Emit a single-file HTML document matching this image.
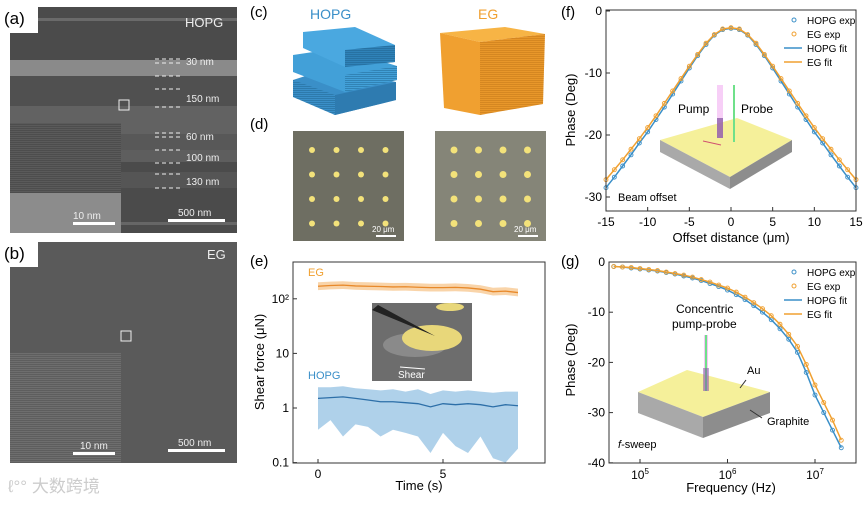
<!DOCTYPE html>
<html><head><meta charset="utf-8"><style>
body{margin:0;background:#fff;width:865px;height:500px;overflow:hidden}
svg{font-family:"Liberation Sans","Noto Sans CJK SC",sans-serif}
</style></head><body>
<svg id="s" width="865" height="500" viewBox="0 0 865 500">
<defs>
<pattern id="lines" width="4" height="2" patternUnits="userSpaceOnUse"><rect width="4" height="1" fill="#000" opacity="0.15"/></pattern>
<pattern id="olines" width="4" height="2" patternUnits="userSpaceOnUse"><rect width="4" height="1" fill="#b06a10" opacity="0.35"/></pattern>
<pattern id="blines" width="4" height="2" patternUnits="userSpaceOnUse"><rect width="4" height="1" fill="#1d5f8a" opacity="0.45"/></pattern>
</defs>
<!-- panel a -->
<g>
<rect x="10" y="7" width="227" height="226" fill="#4b4b4b"/>
<rect x="10" y="18" width="227" height="3" fill="#6a6a6a"/>
<rect x="10" y="60" width="227" height="16" fill="#8a8a8a"/>
<rect x="10" y="76" width="227" height="30" fill="#505050"/>
<rect x="10" y="106" width="227" height="28" fill="#626262"/>
<rect x="10" y="134" width="227" height="16" fill="#585858"/>
<rect x="10" y="150" width="227" height="12" fill="#5e5e5e"/>
<rect x="10" y="172" width="227" height="16" fill="#555"/>
<rect x="10" y="222" width="227" height="3" fill="#666"/>
<rect x="10" y="123" width="111" height="110" fill="#5a5a5a"/>
<rect x="10" y="123" width="111" height="70" fill="url(#lines)"/>
<rect x="10" y="193" width="111" height="40" fill="#8c8c8c"/>
<rect x="119" y="100" width="10" height="10" fill="none" stroke="#eee" stroke-width="1"/>
<rect x="0" y="0" width="38" height="33" fill="#fff"/>
<text x="4" y="24" font-size="17">(a)</text>
<text x="185" y="27" font-size="13" fill="#eee">HOPG</text>
<g stroke="#eee" stroke-dasharray="4,3" stroke-width="1">
<line x1="155" y1="59" x2="180" y2="59"/><line x1="155" y1="63" x2="180" y2="63"/><line x1="155" y1="76" x2="180" y2="76"/>
<line x1="155" y1="89" x2="180" y2="89"/><line x1="155" y1="107" x2="180" y2="107"/>
<line x1="155" y1="133" x2="180" y2="133"/><line x1="155" y1="137" x2="180" y2="137"/><line x1="155" y1="150" x2="180" y2="150"/>
<line x1="155" y1="163" x2="180" y2="163"/><line x1="155" y1="174" x2="180" y2="174"/><line x1="155" y1="188" x2="180" y2="188"/>
</g>
<g fill="#eee" font-size="10"><text x="186" y="65">30 nm</text><text x="186" y="102">150 nm</text><text x="186" y="140">60 nm</text><text x="186" y="161">100 nm</text><text x="186" y="185">130 nm</text>
<text x="73" y="219">10 nm</text><text x="178" y="216">500 nm</text></g>
<rect x="73" y="222" width="42" height="3" fill="#fff"/><rect x="168" y="219" width="57" height="3" fill="#fff"/>
</g>
<!-- panel b -->
<g>
<rect x="10" y="242" width="227" height="221" fill="#5a5a5a"/>
<rect x="10" y="353" width="111" height="110" fill="#6e6e6e"/>
<rect x="10" y="353" width="111" height="110" fill="url(#lines)"/>
<rect x="121" y="331" width="10" height="10" fill="none" stroke="#eee"/>
<rect x="0" y="237" width="38" height="30" fill="#fff"/>
<text x="4" y="259" font-size="17">(b)</text>
<text x="207" y="259" font-size="13" fill="#eee">EG</text>
<g fill="#eee" font-size="10"><text x="80" y="449">10 nm</text><text x="178" y="446">500 nm</text></g>
<rect x="73" y="452" width="42" height="3" fill="#fff"/><rect x="168" y="449" width="57" height="3" fill="#fff"/>
<text x="8" y="492" font-size="17" fill="#ccc">ℓ°° 大数跨境</text>
</g>
<!-- panel c -->
<g>
<text x="250" y="17" font-size="15">(c)</text>
<text x="310" y="19" font-size="14" fill="#3a8fc8">HOPG</text>
<text x="478" y="19" font-size="14" fill="#f0a030">EG</text>
<g>
<polygon points="293,80 330,68 396,82 396,100 335,115 293,97" fill="#3a8fc8"/><polygon points="293,80 335,95 335,115 293,97" fill="url(#blines)"/><polygon points="335,95 396,82 396,100 335,115" fill="#2e7bb0"/>
<polygon points="293,55 340,48 397,66 397,80 345,92 293,72" fill="#42a0d8"/><polygon points="345,75 397,66 397,80 345,92" fill="url(#blines)"/>
<polygon points="303,32 355,27 395,45 395,62 345,67 303,48" fill="#4aa8e0"/><polygon points="345,50 395,45 395,62 345,67" fill="#2f82b8"/><polygon points="345,50 395,45 395,62 345,67" fill="url(#blines)"/>
</g>
<g>
<polygon points="440,33 505,27 545,34 480,42" fill="#f7b445"/>
<polygon points="440,33 480,42 480,115 444,108" fill="#f0a030"/>
<polygon points="480,42 545,34 543,104 480,115" fill="#e8972a"/>
<polygon points="480,42 545,34 543,104 480,115" fill="url(#olines)"/>
</g>
</g>
<!-- panel d -->
<g>
<text x="250" y="129" font-size="15">(d)</text>
<rect x="293" y="131" width="111" height="110" fill="#6e6e62"/>
<rect x="435" y="131" width="111" height="110" fill="#858578"/>
<g id="dots" fill="#f3e27a"></g>
<text x="372" y="232" font-size="8" fill="#fff">20 μm</text><rect x="376" y="235" width="20" height="2" fill="#fff"/>
<text x="514" y="232" font-size="8" fill="#fff">20 μm</text><rect x="518" y="235" width="20" height="2" fill="#fff"/>
</g>
<!-- panel e -->
<g>
<text x="250" y="266" font-size="15">(e)</text>
<g id="eplot"></g>
<rect x="293" y="262" width="252" height="201" fill="none" stroke="#333" stroke-width="1"/>
<g>
<rect x="372" y="303" width="100" height="78" fill="#6d6d6d"/>
<ellipse cx="415" cy="345" rx="32" ry="12" fill="#8a8a8a"/>
<ellipse cx="432" cy="338" rx="30" ry="13" fill="#e8d77a"/>
<ellipse cx="450" cy="307" rx="14" ry="4" fill="#e8d77a"/>
<polygon points="372,310 378,305 435,336" fill="#222"/>
<line x1="425" y1="369" x2="400" y2="367" stroke="#fff" stroke-width="1"/>
<text x="398" y="378" font-size="10" fill="#fff">Shear</text>
</g>
<text x="308" y="276" font-size="11" fill="#f0a030">EG</text>
<text x="308" y="379" font-size="11" fill="#3a8fc8">HOPG</text>
<text transform="translate(264,362) rotate(-90)" font-size="13" text-anchor="middle">Shear force (μN)</text>
<text x="419" y="490" font-size="13" text-anchor="middle">Time (s)</text>
</g>
<!-- panel f -->
<g>
<text x="561" y="17" font-size="15">(f)</text>
<g id="finset">
<polygon points="660,140 737,118 792,140 730,177" fill="#f5f09a"/>
<polygon points="660,140 730,177 730,189 660,152" fill="#a9a9a9"/>
<polygon points="730,177 792,140 792,152 730,189" fill="#8d8d8d"/>
<rect x="717" y="85" width="6" height="53" fill="#f0a0f0" opacity="0.5"/>
<rect x="717" y="118" width="6" height="20" fill="#8050a0" opacity="0.7"/>
<rect x="733" y="85" width="2" height="57" fill="#6fe08a"/>
<line x1="703" y1="141" x2="721" y2="145" stroke="#d05070"/>
<text x="678" y="113" font-size="12">Pump</text><text x="741" y="113" font-size="12">Probe</text>
</g>
<g id="fplot"></g>
<text x="618" y="201" font-size="11">Beam offset</text>
<text transform="translate(575,110) rotate(-90)" font-size="13" text-anchor="middle">Phase (Deg)</text>
<text x="731" y="242" font-size="13" text-anchor="middle">Offset distance (μm)</text>
</g>
<!-- panel g -->
<g>
<text x="561" y="266" font-size="15">(g)</text>
<g>
<polygon points="638,392 687,370 770,392 703,417" fill="#f5f09a"/>
<polygon points="638,392 703,417 703,438 638,413" fill="#a9a9a9"/>
<polygon points="703,417 770,392 770,413 703,438" fill="#8d8d8d"/>
<rect x="704" y="335" width="4" height="56" fill="#f0a0f0" opacity="0.6"/>
<rect x="705" y="335" width="2" height="56" fill="#6fe08a"/>
<rect x="703" y="368" width="6" height="23" fill="#8050a0" opacity="0.5"/>
<line x1="746" y1="380" x2="740" y2="388" stroke="#333"/><line x1="750" y1="410" x2="762" y2="418" stroke="#333"/>
<text x="676" y="313" font-size="12">Concentric</text><text x="672" y="328" font-size="12">pump-probe</text>
<text x="747" y="374" font-size="11">Au</text><text x="767" y="425" font-size="11">Graphite</text>
</g>
<g id="gplot"></g>
<text x="618" y="448" font-size="11"><tspan font-style="italic">f</tspan>-sweep</text>
<text transform="translate(575,360) rotate(-90)" font-size="13" text-anchor="middle">Phase (Deg)</text>
<text x="731" y="492" font-size="13" text-anchor="middle">Frequency (Hz)</text>
</g>
</svg>
<script>
// panel f data
const fOffsets=[-15,-14,-13,-12,-11,-10,-9,-8,-7,-6,-5,-4,-3,-2,-1,0,1,2,3,4,5,6,7,8,9,10,11,12,13,14,15];
const fHopg=[-28.5,-26.8,-25.0,-23.2,-21.3,-19.5,-17.5,-15.5,-13.4,-11.3,-9.2,-7.2,-5.4,-3.9,-3.0,-2.8,-3.0,-3.9,-5.4,-7.2,-9.2,-11.3,-13.4,-15.5,-17.5,-19.5,-21.3,-23.2,-25.0,-26.8,-28.5];
const fEg=[-27.2,-25.6,-24.0,-22.3,-20.6,-18.8,-16.9,-14.9,-12.9,-10.9,-8.9,-7.0,-5.2,-3.8,-2.9,-2.7,-2.9,-3.8,-5.2,-7.0,-8.9,-10.9,-12.9,-14.9,-16.9,-18.8,-20.6,-22.3,-24.0,-25.6,-27.2];
const fXTicks=[-15,-10,-5,0,5,10,15];
const fYTicks=[0,-10,-20,-30];
// panel g data
const gLogFreq=[4.7,4.8,4.9,5.0,5.1,5.2,5.3,5.4,5.5,5.6,5.7,5.8,5.9,6.0,6.1,6.2,6.3,6.4,6.5,6.6,6.7,6.8,6.9,7.0,7.1,7.2,7.3];
const gHopg=[-0.9,-1.0,-1.2,-1.4,-1.6,-1.8,-2.1,-2.4,-2.8,-3.2,-3.7,-4.3,-4.9,-5.6,-6.5,-7.5,-8.7,-10.0,-11.5,-13.3,-15.4,-18.0,-22.0,-26.5,-30.0,-33.5,-37.0];
const gEg=[-0.9,-1.0,-1.1,-1.3,-1.5,-1.7,-2.0,-2.3,-2.6,-3.0,-3.5,-4.0,-4.6,-5.2,-6.0,-7.0,-8.1,-9.3,-10.7,-12.4,-14.4,-16.8,-20.4,-24.5,-28.0,-31.5,-35.5];
const gXTicks=[5,6,7];
const gYTicks=[0,-10,-20,-30,-40];
// panel e data
const eTimes=[0,0.5,1,1.5,2,2.5,3,3.5,4,4.5,5,5.5,6,6.5,7,7.5,8];
const eEgMean=[170,175,178,172,170,168,165,166,163,160,160,162,158,150,135,138,130];
const eHopgMean=[1.5,1.55,1.6,1.5,1.4,1.3,1.3,1.25,1.2,1.05,1.2,1.15,1.2,1.15,1.05,1.15,1.1];
const eHopgUpper=[2.4,2.4,2.5,2.3,2.2,2.1,2.2,2.0,2.2,1.8,2.1,2.0,2.1,2.0,1.9,2.0,2.0];
const eHopgLower=[0.4,0.6,0.3,0.5,0.45,0.3,0.4,0.35,0.3,0.15,0.35,0.2,0.15,0.3,0.12,0.1,0.18];
const eXTicks=[0,5];
const eYTicks=[0.1,1,10,100];
const eYLabels=["0.1","1","10","10²"];

const NS="http://www.w3.org/2000/svg";
function mk(parent,tag,attrs){const e=document.createElementNS(NS,tag);for(const k in attrs)e.setAttribute(k,attrs[k]);parent.appendChild(e);return e;}
const BLUE="#3a8fc8",ORANGE="#f0a030";

const dg=document.getElementById('dots');
[[293,131],[435,131]].forEach(([ox,oy],pi)=>{for(let r=0;r<4;r++)for(let c=0;c<4;c++){const d=mk(dg,'circle',{cx:ox+19+c*24.5,cy:oy+19+r*24.5,r:pi?3.5:3});

}});

function axes(g,x0,x1,y0,y1){
 const f=mk(g,'rect',{x:x0,y:y0,width:x1-x0,height:y1-y0,fill:'none',stroke:'#333','stroke-width':1});
 
 
}
function legend(g,x,y){
 const items=[["HOPG exp",BLUE,'c'],["EG exp",ORANGE,'c'],["HOPG fit",BLUE,'l'],["EG fit",ORANGE,'l']];
 items.forEach((it,i)=>{const yy=y+i*14;
  if(it[2]=='c')mk(g,'circle',{cx:x+12,cy:yy,r:2,fill:'none',stroke:it[1]});
  else mk(g,'line',{x1:x+2,y1:yy,x2:x+20,y2:yy,stroke:it[1],'stroke-width':1.5});
  const t=mk(g,'text',{x:x+25,y:yy+4,'font-size':10});t.textContent=it[0];
  
  });
}
// panel f
(function(){
 const g=document.getElementById('fplot');const X0=606,X1=856,Y0=10,Y1=211;
 const sx=v=>X0+(v+15)/30*(X1-X0), sy=v=>11+(-v)/10*62;
 [[fHopg,BLUE,'hopg'],[fEg,ORANGE,'eg']].forEach(([arr,col,n])=>{
  const p=mk(g,'polyline',{points:arr.map((v,i)=>sx(fOffsets[i])+','+sy(v)).join(' '),fill:'none',stroke:col,'stroke-width':1.5});
  
  
  arr.forEach((v,i)=>{const c=mk(g,'circle',{cx:sx(fOffsets[i]),cy:sy(v),r:2,fill:'none',stroke:col,'stroke-width':0.9});
   
   });
 });
 axes(g,X0,X1,Y0,Y1);
 fXTicks.forEach(v=>{mk(g,'line',{x1:sx(v),y1:Y1,x2:sx(v),y2:Y1-4,stroke:'#333'});const t=mk(g,'text',{x:sx(v),y:Y1+15,'font-size':12,'text-anchor':'middle'});t.textContent=v;
  
  });
 fYTicks.forEach(v=>{mk(g,'line',{x1:X0,y1:sy(v),x2:X0+4,y2:sy(v),stroke:'#333'});const t=mk(g,'text',{x:X0-4,y:sy(v)+4,'font-size':12,'text-anchor':'end'});t.textContent=v;
  
  });
 legend(g,782,20);
})();
// panel g
(function(){
 const g=document.getElementById('gplot');const X0=609,X1=856,Y0=262,Y1=463;
 const sx=v=>640+(v-5)*87.5, sy=v=>262+(-v)/10*50.2;
 [[gHopg,BLUE,'hopg'],[gEg,ORANGE,'eg']].forEach(([arr,col,n])=>{
  const p=mk(g,'polyline',{points:arr.map((v,i)=>sx(gLogFreq[i])+','+sy(v)).join(' '),fill:'none',stroke:col,'stroke-width':1.5});
  
  
  arr.forEach((v,i)=>{const c=mk(g,'circle',{cx:sx(gLogFreq[i]),cy:sy(v),r:2,fill:'none',stroke:col,'stroke-width':0.9});
   
   });
 });
 axes(g,X0,X1,Y0,Y1);
 gXTicks.forEach(v=>{mk(g,'line',{x1:sx(v),y1:Y1,x2:sx(v),y2:Y1-4,stroke:'#333'});const t=mk(g,'text',{x:sx(v),y:Y1+16,'font-size':12,'text-anchor':'middle'});t.innerHTML='10<tspan font-size="8" dy="-5">'+v+'</tspan>';
  
  });
 gYTicks.forEach(v=>{mk(g,'line',{x1:X0,y1:sy(v),x2:X0+4,y2:sy(v),stroke:'#333'});const t=mk(g,'text',{x:X0-4,y:sy(v)+4,'font-size':12,'text-anchor':'end'});t.textContent=v;
  
  });
 legend(g,782,272);
})();
// panel e
(function(){
 const g=document.getElementById('eplot');const X0=293,X1=545,Y0=262,Y1=463;
 const sx=v=>318+v*25, sy=v=>408-Math.log10(v)*54.6;
 const egU=eEgMean.map(v=>v*1.18), egL=eEgMean.map(v=>v*0.85);
 const band=(up,lo,col,n)=>{const pts=up.map((v,i)=>sx(eTimes[i])+','+sy(v)).concat(lo.map((v,i)=>sx(eTimes[i])+','+sy(v)).reverse());
  const p=mk(g,'polygon',{points:pts.join(' '),fill:col,opacity:0.6});
  
  };
 band(egU,egL,'#f5b870','eg-error-band');
 band(eHopgUpper,eHopgLower,'#7ab3dc','hopg-error-band');
 [[eEgMean,'#e8892a','eg-mean-line'],[eHopgMean,'#2d6fa8','hopg-mean-line']].forEach(([arr,col,n])=>{
  const p=mk(g,'polyline',{points:arr.map((v,i)=>sx(eTimes[i])+','+sy(v)).join(' '),fill:'none',stroke:col,'stroke-width':1.3});
  
  });
 eXTicks.forEach(v=>{mk(g,'line',{x1:sx(v),y1:Y1,x2:sx(v),y2:Y1-4,stroke:'#333'});const t=mk(g,'text',{x:sx(v),y:Y1+15,'font-size':12,'text-anchor':'middle'});t.textContent=v;
  
  });
 eYTicks.forEach((v,i)=>{mk(g,'line',{x1:X0,y1:sy(v),x2:X0+4,y2:sy(v),stroke:'#333'});const t=mk(g,'text',{x:X0-4,y:sy(v)+4,'font-size':12,'text-anchor':'end'});t.textContent=eYLabels[i];
  
  });
})();
</script>
</body></html>
